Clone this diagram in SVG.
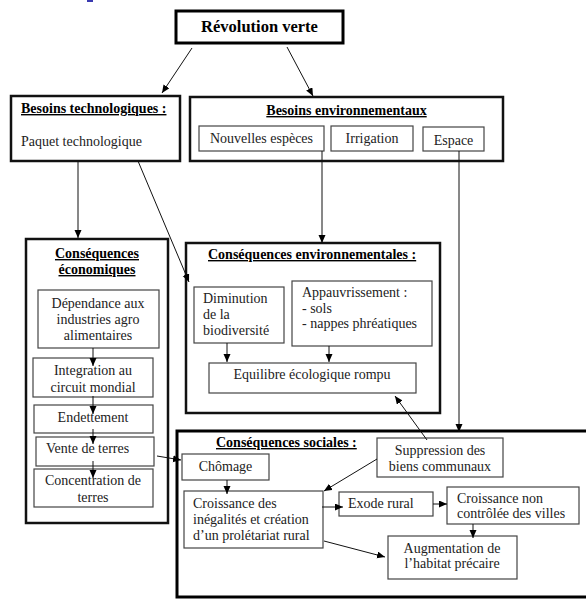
<svg xmlns="http://www.w3.org/2000/svg" width="586" height="608" viewBox="0 0 586 608">
<style>
  .b { font-weight: bold; text-decoration: underline; }
  .m { text-anchor: middle; }
  .big { stroke: #111; stroke-width: 2.5; fill: #fff; }
  .sm { stroke: #444; stroke-width: 1.2; fill: #fff; }
  .c { stroke: #111; stroke-width: 1; fill: none; }
</style>
<defs>
  <marker id="ah" markerUnits="userSpaceOnUse" markerWidth="9" markerHeight="8" refX="8" refY="3.5" orient="auto">
    <path d="M0,0 L8,3.5 L0,7 z" fill="#000"/>
  </marker>
</defs>
<rect width="586" height="608" fill="#fff"/>
<rect x="87" y="0" width="6" height="2" fill="#3a3ab0"/>

<g id="revolution">
  <rect x="176" y="11" width="167" height="32" fill="#fff" stroke="#000" stroke-width="3"/>
  <text x="259.5" y="32" class="m" font-family="Liberation Serif" font-weight="bold" font-size="16.5" fill="#000">Révolution verte</text>
</g>

<g id="besoins-tech">
  <rect x="11" y="96" width="169" height="65" class="big"/>
  <text x="21" y="113" class="b" font-family="Liberation Serif" font-size="14" fill="#000">Besoins technologiques :</text>
  <text x="21" y="146" font-family="Liberation Serif" font-size="14" fill="#222">Paquet technologique</text>
</g>

<g id="besoins-env">
  <rect x="190" y="97" width="313" height="64" class="big"/>
  <text x="346.5" y="115" class="b m" font-family="Liberation Serif" font-size="14" fill="#000">Besoins environnementaux</text>
  <g id="nouvelles-especes">
    <rect x="199" y="126" width="125" height="25" class="sm"/>
    <text x="261.5" y="143" class="m" font-family="Liberation Serif" font-size="14" fill="#222">Nouvelles espèces</text>
  </g>
  <g id="irrigation">
    <rect x="331" y="126" width="82" height="25" class="sm"/>
    <text x="372" y="143" class="m" font-family="Liberation Serif" font-size="14" fill="#222">Irrigation</text>
  </g>
  <g id="espace">
    <rect x="423" y="127" width="61" height="24" class="sm"/>
    <text x="453.5" y="145" class="m" font-family="Liberation Serif" font-size="14" fill="#222">Espace</text>
  </g>
</g>

<g id="cons-eco">
  <rect x="26" y="239" width="142" height="284" class="big"/>
  <text x="97" y="258" class="b m" font-family="Liberation Serif" font-size="14" fill="#000">Conséquences</text>
  <text x="97" y="274" class="b m" font-family="Liberation Serif" font-size="14" fill="#000">économiques</text>
  <g id="dependance">
    <rect x="38" y="290" width="121" height="58" class="sm"/>
    <text x="98" y="308" class="m" font-family="Liberation Serif" font-size="14" fill="#222">Dépendance aux</text>
    <text x="98" y="324" class="m" font-family="Liberation Serif" font-size="14" fill="#222">industries agro</text>
    <text x="98" y="340" class="m" font-family="Liberation Serif" font-size="14" fill="#222">alimentaires</text>
  </g>
  <g id="integration">
    <rect x="33" y="358" width="120" height="39" class="sm"/>
    <text x="93" y="375" class="m" font-family="Liberation Serif" font-size="14" fill="#222">Integration au</text>
    <text x="93" y="392" class="m" font-family="Liberation Serif" font-size="14" fill="#222">circuit mondial</text>
  </g>
  <g id="endettement">
    <rect x="34" y="405" width="119" height="28" class="sm"/>
    <text x="93" y="422" class="m" font-family="Liberation Serif" font-size="14" fill="#222">Endettement</text>
  </g>
  <g id="vente">
    <rect x="36" y="437" width="118" height="29" class="sm"/>
    <text x="46" y="453" font-family="Liberation Serif" font-size="14" fill="#222">Vente de terres</text>
  </g>
  <g id="concentration">
    <rect x="34" y="469" width="119" height="38" class="sm"/>
    <text x="93" y="485" class="m" font-family="Liberation Serif" font-size="14" fill="#222">Concentration de</text>
    <text x="93" y="502" class="m" font-family="Liberation Serif" font-size="14" fill="#222">terres</text>
  </g>
</g>

<g id="cons-env">
  <rect x="186" y="243" width="254" height="170" class="big"/>
  <text x="208" y="259" class="b" font-family="Liberation Serif" font-size="14" fill="#000">Conséquences environnementales :</text>
  <g id="diminution">
    <rect x="194" y="287" width="90" height="56" class="sm"/>
    <text x="203" y="303" font-family="Liberation Serif" font-size="14" fill="#222">Diminution</text>
    <text x="203" y="319" font-family="Liberation Serif" font-size="14" fill="#222">de la</text>
    <text x="203" y="335" font-family="Liberation Serif" font-size="14" fill="#222">biodiversité</text>
  </g>
  <g id="appauvrissement">
    <rect x="292" y="281" width="140" height="65" class="sm"/>
    <text x="302" y="297" font-family="Liberation Serif" font-size="14" fill="#222">Appauvrissement :</text>
    <text x="302" y="313" font-family="Liberation Serif" font-size="14" fill="#222">- sols</text>
    <text x="302" y="328" font-family="Liberation Serif" font-size="14" fill="#222">- nappes phréatiques</text>
  </g>
  <g id="equilibre">
    <rect x="209" y="363" width="207" height="30" class="sm"/>
    <text x="312" y="379" class="m" font-family="Liberation Serif" font-size="14" fill="#222">Equilibre écologique rompu</text>
  </g>
</g>

<g id="cons-soc">
  <rect x="177" y="431" width="420" height="166" fill="#fff" stroke="#000" stroke-width="3"/>
  <text x="216" y="447" class="b" font-family="Liberation Serif" font-size="14" fill="#000">Conséquences sociales :</text>
  <g id="chomage">
    <rect x="182" y="454" width="87" height="26" class="sm"/>
    <text x="225.5" y="471" class="m" font-family="Liberation Serif" font-size="14" fill="#222">Chômage</text>
  </g>
  <g id="suppression">
    <rect x="377" y="438" width="126" height="39" class="sm"/>
    <text x="440" y="455" class="m" font-family="Liberation Serif" font-size="14" fill="#222">Suppression des</text>
    <text x="440" y="471" class="m" font-family="Liberation Serif" font-size="14" fill="#222">biens communaux</text>
  </g>
  <g id="inegalites">
    <rect x="184" y="491" width="139" height="57" class="sm"/>
    <text x="193" y="508" font-family="Liberation Serif" font-size="14" fill="#222">Croissance des</text>
    <text x="193" y="524" font-family="Liberation Serif" font-size="14" fill="#222">inégalités et création</text>
    <text x="193" y="540" font-family="Liberation Serif" font-size="14" fill="#222">d’un prolétariat rural</text>
  </g>
  <g id="exode">
    <rect x="339" y="492" width="94" height="24" class="sm"/>
    <text x="348" y="508" font-family="Liberation Serif" font-size="14" fill="#222">Exode rural</text>
  </g>
  <g id="croissance-villes">
    <rect x="447" y="487" width="132" height="37" class="sm"/>
    <text x="457" y="503" font-family="Liberation Serif" font-size="14" fill="#222">Croissance non</text>
    <text x="457" y="518" font-family="Liberation Serif" font-size="14" fill="#222">contrôlée des villes</text>
  </g>
  <g id="augmentation">
    <rect x="388" y="536" width="129" height="43" class="sm"/>
    <text x="452" y="553" class="m" font-family="Liberation Serif" font-size="14" fill="#222">Augmentation de</text>
    <text x="452" y="568" class="m" font-family="Liberation Serif" font-size="14" fill="#222">l’habitat précaire</text>
  </g>
</g>

<g id="connectors">
  <line x1="192" y1="48" x2="162" y2="93" class="c" marker-end="url(#ah)"/>
  <line x1="287" y1="47" x2="313" y2="96" class="c" marker-end="url(#ah)"/>
  <line x1="78" y1="161" x2="78" y2="238" class="c" marker-end="url(#ah)"/>
  <line x1="138" y1="161" x2="189" y2="282" class="c" marker-end="url(#ah)"/>
  <line x1="322" y1="151" x2="322" y2="243" class="c" marker-end="url(#ah)"/>
  <line x1="459" y1="151" x2="459" y2="432" class="c" marker-end="url(#ah)"/>
  <line x1="93" y1="348" x2="93" y2="366" class="c" marker-end="url(#ah)"/>
  <line x1="93" y1="396" x2="93" y2="414" class="c" marker-end="url(#ah)"/>
  <line x1="93" y1="429" x2="93" y2="444" class="c" marker-end="url(#ah)"/>
  <line x1="93" y1="461" x2="93" y2="478" class="c" marker-end="url(#ah)"/>
  <line x1="157" y1="456" x2="181" y2="460" class="c" marker-end="url(#ah)"/>
  <line x1="227" y1="480" x2="227" y2="494" class="c" marker-end="url(#ah)"/>
  <line x1="227" y1="343" x2="227" y2="362" class="c" marker-end="url(#ah)"/>
  <line x1="329" y1="346" x2="329" y2="362" class="c" marker-end="url(#ah)"/>
  <line x1="377" y1="459" x2="324" y2="491" class="c" marker-end="url(#ah)"/>
  <line x1="427" y1="440" x2="395" y2="396" class="c" marker-end="url(#ah)"/>
  <line x1="322" y1="507" x2="343" y2="507" class="c" marker-end="url(#ah)"/>
  <line x1="433" y1="504" x2="447" y2="504" class="c" marker-end="url(#ah)"/>
  <line x1="473" y1="524" x2="473" y2="538" class="c" marker-end="url(#ah)"/>
  <line x1="324" y1="541" x2="385" y2="557" class="c" marker-end="url(#ah)"/>
</g>
</svg>
